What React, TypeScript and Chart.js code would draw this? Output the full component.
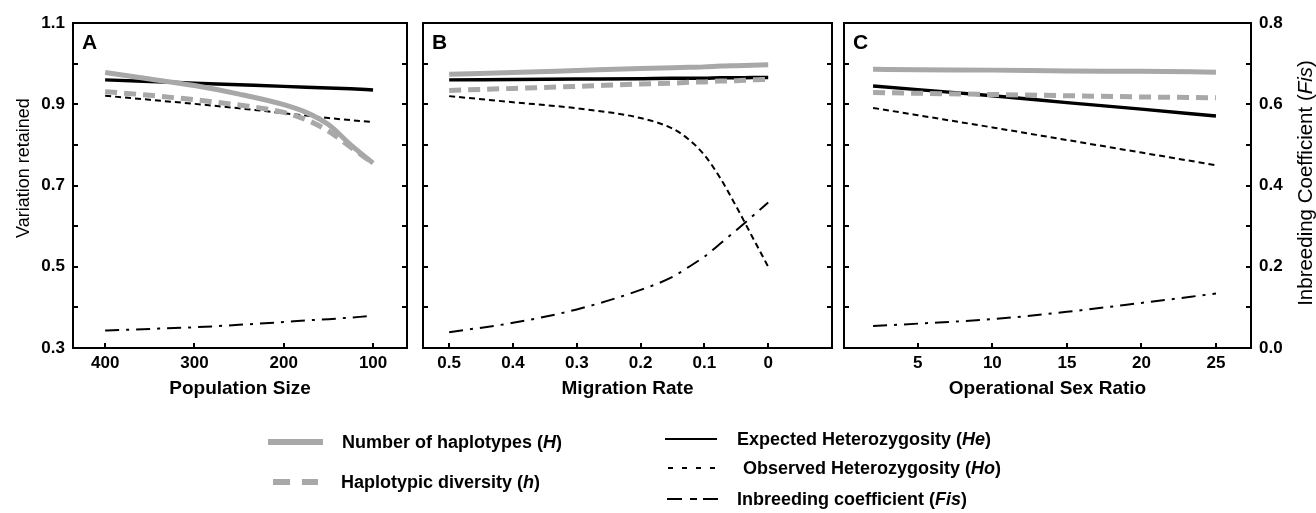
import React, { useEffect, useRef } from "react";
import { Chart, registerables } from "chart.js";

Chart.register(...registerables);

const FONT = "'Liberation Sans', Arial, Helvetica, sans-serif";
const GREY = "#a8a8a8";

// Panel A: population size
const popSize = [400, 350, 300, 250, 200, 175, 150, 125, 100];
const popHaplotypes = [0.978, 0.962, 0.946, 0.925, 0.899, 0.88, 0.85, 0.8, 0.755];
const popHapDiversity = [0.931, 0.922, 0.911, 0.898, 0.88, 0.862, 0.834, 0.794, 0.755];
const popExpHet = [0.96, 0.956, 0.952, 0.948, 0.944, 0.942, 0.94, 0.938, 0.935];
const popObsHet = [0.921, 0.911, 0.901, 0.89, 0.878, 0.872, 0.866, 0.861, 0.856];
const popFis = [0.043, 0.047, 0.051, 0.057, 0.064, 0.068, 0.071, 0.075, 0.079];
const popTicks = [400, 300, 200, 100];

// Panel B: migration rate
const migRate = [0.5, 0.4, 0.3, 0.2, 0.15, 0.125, 0.1, 0.075, 0.05, 0.025, 0];
const migHaplotypes = [0.974, 0.978, 0.983, 0.988, 0.99, 0.991, 0.992, 0.994, 0.995, 0.996, 0.997];
const migHapDiversity = [0.934, 0.939, 0.944, 0.95, 0.952, 0.954, 0.955, 0.957, 0.958, 0.96, 0.961];
const migExpHet = [0.96, 0.961, 0.962, 0.963, 0.964, 0.964, 0.964, 0.965, 0.965, 0.966, 0.966];
const migObsHet = [0.92, 0.905, 0.89, 0.866, 0.84, 0.814, 0.775, 0.718, 0.648, 0.574, 0.5];
const migFis = [0.039, 0.062, 0.095, 0.143, 0.175, 0.199, 0.225, 0.257, 0.29, 0.324, 0.358];
const migTicks = [0.5, 0.4, 0.3, 0.2, 0.1, 0];

// Panel C: operational sex ratio
const sexRatio = [2, 5, 10, 15, 20, 25];
const osrHaplotypes = [0.986, 0.985, 0.984, 0.982, 0.981, 0.979];
const osrHapDiversity = [0.929, 0.927, 0.924, 0.921, 0.918, 0.916];
const osrExpHet = [0.945, 0.936, 0.921, 0.904, 0.888, 0.871];
const osrObsHet = [0.891, 0.873, 0.843, 0.812, 0.781, 0.75];
const osrFis = [0.054, 0.06, 0.071, 0.089, 0.111, 0.134];
const osrTicks = [5, 10, 15, 20, 25];

// Shared y axes
const variationTicks = [0.3, 0.4, 0.5, 0.6, 0.7, 0.8, 0.9, 1.0, 1.1];
const fisTicks = [0, 0.1, 0.2, 0.3, 0.4, 0.5, 0.6, 0.7, 0.8];

const CANVAS_H = 400;

type Panel = {
  letter: string;
  left: number;
  width: number;
  padLeft: number;
  padRight: number;
  xs: number[];
  H: number[];
  h: number[];
  He: number[];
  Ho: number[];
  Fis: number[];
  xMin: number;
  xMax: number;
  reverse: boolean;
  xTicks: number[];
  xTitle: string;
  fmt: (v: number) => string;
  leftAxis: boolean;
  rightAxis: boolean;
};

const panels: Panel[] = [
  {
    letter: "A", left: 0, width: 415, padLeft: 0, padRight: 8,
    xs: popSize, H: popHaplotypes, h: popHapDiversity, He: popExpHet, Ho: popObsHet, Fis: popFis,
    xMin: 62, xMax: 436, reverse: true, xTicks: popTicks, xTitle: "Population Size",
    fmt: (v) => String(v), leftAxis: true, rightAxis: false,
  },
  {
    letter: "B", left: 415, width: 425, padLeft: 8, padRight: 8,
    xs: migRate, H: migHaplotypes, h: migHapDiversity, He: migExpHet, Ho: migObsHet, Fis: migFis,
    xMin: -0.1, xMax: 0.541, reverse: true, xTicks: migTicks, xTitle: "Migration Rate",
    fmt: (v) => (Math.abs(v) < 1e-9 ? "0" : v.toFixed(1)), leftAxis: false, rightAxis: false,
  },
  {
    letter: "C", left: 840, width: 476, padLeft: 4, padRight: 0,
    xs: sexRatio, H: osrHaplotypes, h: osrHapDiversity, He: osrExpHet, Ho: osrObsHet, Fis: osrFis,
    xMin: 0.05, xMax: 27.35, reverse: false, xTicks: osrTicks, xTitle: "Operational Sex Ratio",
    fmt: (v) => String(v), leftAxis: false, rightAxis: true,
  },
];

const series = (label: string, xs: number[], ys: number[], yAxisID: string, style: any) => ({
  label,
  data: xs.map((x, i) => ({ x, y: ys[i] })),
  yAxisID,
  pointRadius: 0,
  pointHoverRadius: 0,
  fill: false,
  cubicInterpolationMode: "monotone",
  borderCapStyle: "butt",
  ...style,
});

// Panel frame, inward tick marks, panel letter and rotated y titles
const framePlugin = {
  id: "frame",
  afterDraw(chart: any, _args: any, opts: any) {
    const { ctx, chartArea: a, scales } = chart;
    const xs = scales.x;
    const ys = scales.y;
    ctx.save();
    ctx.strokeStyle = "#000";
    ctx.lineWidth = 2;
    ctx.strokeRect(a.left, a.top, a.right - a.left, a.bottom - a.top);
    ctx.beginPath();
    const tl = 5;
    for (const v of opts.xTicks as number[]) {
      const px = Math.round(xs.getPixelForValue(v));
      ctx.moveTo(px, a.bottom);
      ctx.lineTo(px, a.bottom - tl);
    }
    for (const v of variationTicks) {
      const py = Math.round(ys.getPixelForValue(v));
      ctx.moveTo(a.left, py);
      ctx.lineTo(a.left + tl, py);
      ctx.moveTo(a.right, py);
      ctx.lineTo(a.right - tl, py);
    }
    ctx.stroke();

    ctx.fillStyle = "#000";
    ctx.font = `bold 21px ${FONT}`;
    ctx.textAlign = "left";
    ctx.textBaseline = "alphabetic";
    ctx.fillText(opts.letter, a.left + 9, a.top + 26);

    if (opts.leftTitle) {
      ctx.save();
      ctx.translate(24, 168);
      ctx.rotate(-Math.PI / 2);
      ctx.font = `18px ${FONT}`;
      ctx.textAlign = "center";
      ctx.textBaseline = "middle";
      ctx.fillText("Variation retained", 0, 0);
      ctx.restore();
    }
    if (opts.rightTitle) {
      const parts: [string, string][] = [
        ["Inbreeding Coefficient (", `20.5px ${FONT}`],
        ["Fis", `italic 20.5px ${FONT}`],
        [")", `20.5px ${FONT}`],
      ];
      let total = 0;
      for (const [t, f] of parts) {
        ctx.font = f;
        total += ctx.measureText(t).width;
      }
      ctx.save();
      ctx.translate(chart.width - 10, 183);
      ctx.rotate(-Math.PI / 2);
      ctx.textBaseline = "middle";
      ctx.textAlign = "left";
      let x = -total / 2;
      for (const [t, f] of parts) {
        ctx.font = f;
        ctx.fillText(t, x, 0);
        x += ctx.measureText(t).width;
      }
      ctx.restore();
    }
    ctx.restore();
  },
};

function PanelChart({ p }: { p: Panel }) {
  const ref = useRef<HTMLCanvasElement | null>(null);
  useEffect(() => {
    if (!ref.current) return;
    const tickFont = { family: FONT, size: 17, weight: "bold" as const };
    const chart = new Chart(ref.current, {
      type: "line",
      data: {
        datasets: [
          series("Number of haplotypes (H)", p.xs, p.H, "y", { borderColor: GREY, borderWidth: 5, order: 1 }),
          series("Haplotypic diversity (h)", p.xs, p.h, "y", { borderColor: GREY, borderWidth: 5, borderDash: [12, 7], order: 0 }),
          series("Expected Heterozygosity (He)", p.xs, p.He, "y", { borderColor: "#000", borderWidth: 3.5, order: 2 }),
          series("Observed Heterozygosity (Ho)", p.xs, p.Ho, "y", { borderColor: "#000", borderWidth: 2, borderDash: [6, 4], order: 3 }),
          series("Inbreeding coefficient (Fis)", p.xs, p.Fis, "y1", { borderColor: "#000", borderWidth: 2, borderDash: [14, 7, 3, 7], order: 4 }),
        ] as any,
      },
      options: {
        animation: false,
        responsive: false,
        devicePixelRatio: 1,
        layout: { padding: { top: 23, left: p.padLeft, right: p.padRight, bottom: 0 } },
        plugins: {
          legend: { display: false },
          tooltip: { enabled: false },
          frame: {
            letter: p.letter,
            xTicks: p.xTicks,
            leftTitle: p.leftAxis,
            rightTitle: p.rightAxis,
          },
        } as any,
        scales: {
          x: {
            type: "linear",
            min: p.xMin,
            max: p.xMax,
            reverse: p.reverse,
            afterBuildTicks: (s: any) => {
              s.ticks = p.xTicks.map((v) => ({ value: v }));
            },
            ticks: {
              autoSkip: false,
              maxRotation: 0,
              padding: 5,
              color: "#000",
              font: tickFont,
              callback: (v: any) => p.fmt(Number(v)),
            },
            grid: { display: false, drawTicks: false },
            border: { display: false },
            title: {
              display: true,
              text: p.xTitle,
              color: "#000",
              font: { family: FONT, size: 19, weight: "bold" },
              padding: { top: 0, bottom: 0 },
            },
            afterFit: (s: any) => {
              s.height = 52;
            },
          },
          y: {
            position: "left",
            display: p.leftAxis,
            min: 0.3,
            max: 1.1,
            afterBuildTicks: (s: any) => {
              s.ticks = variationTicks.map((v) => ({ value: v }));
            },
            ticks: {
              autoSkip: false,
              padding: 8,
              color: "#000",
              font: tickFont,
              callback: (v: any) => (Math.round(Number(v) * 10) % 2 === 1 ? Number(v).toFixed(1) : ""),
            },
            grid: { display: false, drawTicks: false },
            border: { display: false },
            afterFit: (s: any) => {
              if (p.leftAxis) s.width = 73;
            },
          },
          y1: {
            position: "right",
            display: p.rightAxis,
            min: 0,
            max: 0.8,
            afterBuildTicks: (s: any) => {
              s.ticks = fisTicks.map((v) => ({ value: v }));
            },
            ticks: {
              autoSkip: false,
              padding: 8,
              color: "#000",
              font: tickFont,
              callback: (v: any) => (Math.round(Number(v) * 10) % 2 === 0 ? Number(v).toFixed(1) : ""),
            },
            grid: { display: false, drawTicks: false },
            border: { display: false },
            afterFit: (s: any) => {
              if (p.rightAxis) s.width = 65;
            },
          },
        },
      } as any,
      plugins: [framePlugin],
    });
    return () => chart.destroy();
  }, [p]);
  return (
    <canvas
      ref={ref}
      width={p.width}
      height={CANVAS_H}
      style={{ position: "absolute", left: p.left, top: 0, width: p.width, height: CANVAS_H }}
    />
  );
}

const legendText: React.CSSProperties = {
  position: "absolute",
  transform: "translateY(-50%)",
  font: `bold 18px ${FONT}`,
  color: "#000",
  whiteSpace: "nowrap",
  lineHeight: "20px",
};

export default function App() {
  return (
    <div
      style={{
        position: "fixed",
        left: 0,
        top: 0,
        width: 1316,
        height: 513,
        background: "#fff",
        overflow: "hidden",
      }}
    >
      {panels.map((p) => (
        <PanelChart key={p.letter} p={p} />
      ))}
      <svg
        width={1316}
        height={513}
        style={{ position: "absolute", left: 0, top: 0, pointerEvents: "none" }}
      >
        <line x1={268} x2={323} y1={442} y2={442} stroke={GREY} strokeWidth={6} />
        <line x1={273} x2={318} y1={482} y2={482} stroke={GREY} strokeWidth={6} strokeDasharray="17 12" />
        <line x1={665} x2={717} y1={439} y2={439} stroke="#000" strokeWidth={2} />
        <line x1={668} x2={715} y1={468} y2={468} stroke="#000" strokeWidth={2} strokeDasharray="5 9" />
        <line x1={667} x2={718} y1={499} y2={499} stroke="#000" strokeWidth={2} strokeDasharray="15 8 7 6 15" />
      </svg>
      <div style={{ ...legendText, left: 342, top: 442 }}>
        Number of haplotypes (<i>H</i>)
      </div>
      <div style={{ ...legendText, left: 341, top: 482 }}>
        Haplotypic diversity (<i>h</i>)
      </div>
      <div style={{ ...legendText, left: 737, top: 439 }}>
        Expected Heterozygosity (<i>He</i>)
      </div>
      <div style={{ ...legendText, left: 743, top: 468 }}>
        Observed Heterozygosity (<i>Ho</i>)
      </div>
      <div style={{ ...legendText, left: 737, top: 499 }}>
        Inbreeding coefficient (<i>Fis</i>)
      </div>
    </div>
  );
}
